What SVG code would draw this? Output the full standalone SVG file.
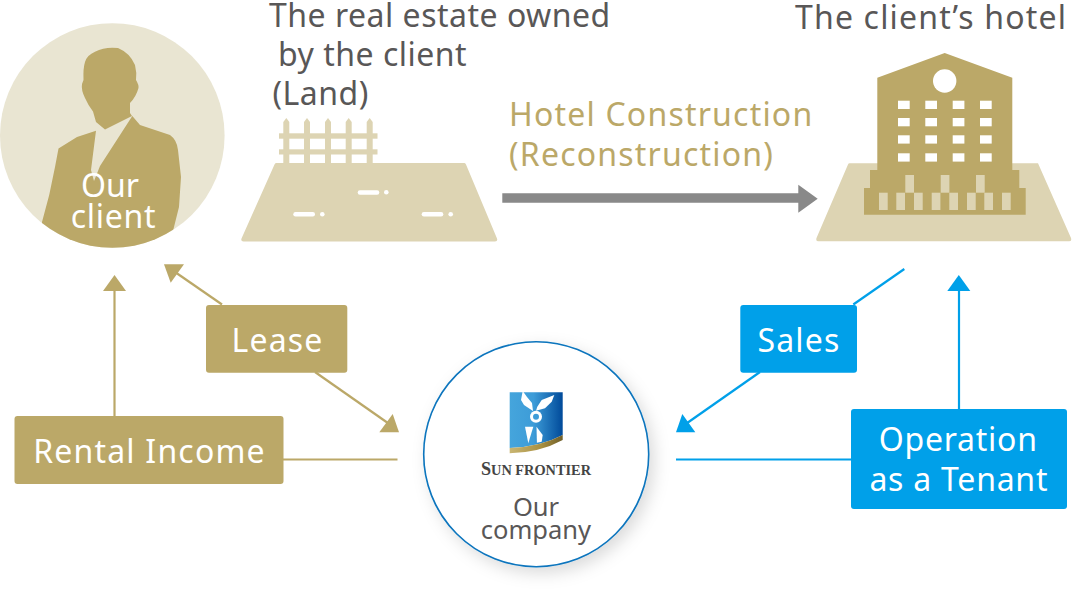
<svg xmlns="http://www.w3.org/2000/svg" width="1072" height="595" viewBox="0 0 1072 595">
<defs>
<style>
text{font-family:"Noto Sans","Open Sans",sans-serif}
.h{font-size:32px;fill:#595757;letter-spacing:.5px}
.hh{letter-spacing:1.17px}
.c{font-size:32px;fill:#bba868;letter-spacing:1.2px}
.w{font-size:32px;fill:#fff;text-anchor:middle;letter-spacing:1.2px}
.o{letter-spacing:.75px}
.cl{letter-spacing:.7px}
.g{fill:#bba868}.l{fill:#ddd4b3}.b{fill:#00a0e9}
.gl{stroke:#bba868;stroke-width:2.2;fill:none}
.bl{stroke:#00a0e9;stroke-width:2.2;fill:none}
</style>
<clipPath id="cc"><circle cx="112.3" cy="135.5" r="112.3"/></clipPath>
<linearGradient id="sh" x1="0" x2="1" y1="0" y2="0"><stop offset="0" stop-color="#45a5dc"/><stop offset=".45" stop-color="#3d9cd8"/><stop offset="1" stop-color="#004a9a"/></linearGradient>
<linearGradient id="au" x1="0" x2="1" y1="0" y2="0"><stop offset="0" stop-color="#c9b673"/><stop offset=".6" stop-color="#a98f3f"/><stop offset="1" stop-color="#6f5f2a"/></linearGradient>
<filter id="ds" x="-20%" y="-20%" width="150%" height="150%"><feDropShadow dx="5" dy="6" stdDeviation="8" flood-color="#000" flood-opacity=".14"/></filter>
</defs>
<g id="connectors">
<line class="gl" x1="114.500" y1="417" x2="114.500" y2="288"/>
<polygon class="g" points="114.500,275 126,291 103,291"/>
<line class="gl" x1="222" y1="304.500" x2="175" y2="272"/>
<polygon class="g" points="164,264.300 184,264.300 170.700,282.700"/>
<line class="gl" x1="315" y1="372" x2="390" y2="424.500"/>
<polygon class="g" points="392.700,414 399,432.300 379.300,432.300"/>
<line class="gl" x1="283" y1="459.500" x2="397.500" y2="459.500"/>
<line class="bl" x1="853.300" y1="304.500" x2="904.300" y2="269"/>
<line class="bl" x1="760" y1="372" x2="685" y2="424.500"/>
<polygon class="b" points="682.300,414 695.300,432.300 676,432.300"/>
<line class="bl" x1="959" y1="410" x2="959" y2="288"/>
<polygon class="b" points="958.800,275 970.300,291 947.300,291"/>
<line class="bl" x1="676" y1="459.500" x2="852" y2="459.500"/>
<polygon points="502.300,193.300 798.300,193.300 798.300,184.700 817.700,198.700 798.300,212.700 798.300,202.700 502.300,202.700" fill="#898989"/>
</g>
<g id="client">
<circle cx="112.3" cy="135.5" r="112.3" fill="#e9e5d2"/>
<g clip-path="url(#cc)">
<path class="g" d="M95 51.700Q105 46.500 118 48Q130 53 135 65Q137 73 136 80Q139 85 138.500 88Q136 97 130 103L130 113L132 116L105 129.500L96 122L93 111.500Q88 105 85 98Q81 90 82 84L83.500 80Q83 68 85 62Q87 55 95 51.700Z"/>
<path class="g" d="M96 130.700L91 170L94 181L100 166L132.300 116L140 125L170 135Q177 140 178 150L181 177L179 207L172 235L173 260L42 260L42 222Q50 195 55 167L58.500 148.500L77 137Z"/>
</g>
<text class="w" x="110" y="197" style="letter-spacing:0">Our</text>
<text class="w cl" x="113.500" y="228">client</text>
</g>
<g id="land">
<path class="l" d="M276 163H464.500Q465.500 163 466 164.500L497 238.500Q498 241.500 495 241.500H243.500Q240.500 241.500 241.500 238.500L274.500 164.500Q275 163 276 163Z"/>
<g class="l">
<rect x="279" y="133.300" width="98.500" height="5.400"/>
<rect x="279" y="149.300" width="98.500" height="5.200"/>
<polygon points="283.300,164 283.300,122 286.300,118 289.300,122 289.300,164"/>
<polygon points="304,164 304,122 307,118 310,122 310,164"/>
<polygon points="325,164 325,122 328,118 331,122 331,164"/>
<polygon points="345.700,164 345.700,122 348.700,118 351.700,122 351.700,164"/>
<polygon points="366.700,164 366.700,122 369.700,118 372.700,122 372.700,164"/>
</g>
<g fill="#fff">
<rect x="357.700" y="190.300" width="21.600" height="4.400" rx="2.200"/><circle cx="386.300" cy="192.300" r="2.300"/>
<rect x="293.300" y="212" width="21.700" height="4.400" rx="2.200"/><circle cx="322.300" cy="214.200" r="2.300"/>
<rect x="421.700" y="212" width="21.600" height="4.400" rx="2.200"/><circle cx="450.700" cy="214.200" r="2.300"/>
</g>
<text class="h" x="269" y="27">The real estate owned</text>
<text class="h" x="278" y="66">by the client</text>
<text class="h" x="272.500" y="105">(Land)</text>
</g>
<g id="construction-label">
<text class="c" x="509" y="126">Hotel Construction</text>
<text class="c" x="509" y="166">(Reconstruction)</text>
</g>
<g id="hotel">
<path class="l" d="M849.500 163.300H1038L1071 238Q1072 241.300 1069 241.300H818.500Q815.500 241.300 816.500 238L848 164.500Q848.500 163.300 849.500 163.300Z"/>
<path class="g" d="M877.300 77.700L944.700 53L1012.300 77.700V170H1019.300V188H1025.700V214.700H864V188H870V170H877.300Z"/>
<circle cx="944.700" cy="81" r="11.700" fill="#fff"/>
<g fill="#fff">
<rect x="898" y="100.700" width="11.700" height="8.300"/><rect x="925.300" y="100.700" width="11.700" height="8.300"/><rect x="952.700" y="100.700" width="11.700" height="8.300"/><rect x="980" y="100.700" width="11.700" height="8.300"/>
<rect x="898" y="118" width="11.700" height="8.300"/><rect x="925.300" y="118" width="11.700" height="8.300"/><rect x="952.700" y="118" width="11.700" height="8.300"/><rect x="980" y="118" width="11.700" height="8.300"/>
<rect x="898" y="135.300" width="11.700" height="8.300"/><rect x="925.300" y="135.300" width="11.700" height="8.300"/><rect x="952.700" y="135.300" width="11.700" height="8.300"/><rect x="980" y="135.300" width="11.700" height="8.300"/>
<rect x="898" y="153.300" width="11.700" height="8.300"/><rect x="925.300" y="153.300" width="11.700" height="8.300"/><rect x="952.700" y="153.300" width="11.700" height="8.300"/><rect x="980" y="153.300" width="11.700" height="8.300"/>
</g>
<g class="l">
<rect x="905.300" y="175" width="8.700" height="17.700"/><rect x="940.700" y="175" width="8.700" height="17.700"/><rect x="976" y="175" width="8.700" height="17.700"/>
<rect x="879" y="192.700" width="8.700" height="17.300"/><rect x="896.300" y="192.700" width="8.700" height="17.300"/><rect x="914" y="192.700" width="8.700" height="17.300"/><rect x="931.700" y="192.700" width="8.700" height="17.300"/><rect x="949.300" y="192.700" width="8.700" height="17.300"/><rect x="967" y="192.700" width="8.700" height="17.300"/><rect x="984.300" y="192.700" width="8.700" height="17.300"/><rect x="1002" y="192.700" width="8.700" height="17.300"/>
</g>
<text class="h hh" x="795" y="29">The client’s hotel</text>
</g>
<g id="rental-income"><rect class="g" x="14.500" y="416" width="269" height="68" rx="3"/><text class="w" x="149.500" y="463">Rental Income</text></g>
<g id="lease"><rect class="g" x="206" y="305" width="141.300" height="67.700" rx="3"/><text class="w" x="277.500" y="352">Lease</text></g>
<g id="sales"><rect class="b" x="740.300" y="305" width="116.700" height="67.700" rx="3"/><text class="w" x="799" y="352">Sales</text></g>
<g id="operation"><rect class="b" x="851" y="409" width="216" height="100" rx="3"/><text class="w o" x="958.300" y="451">Operation</text><text class="w o" x="958.800" y="491">as a Tenant</text></g>
<g id="company">
<circle cx="536.200" cy="454.200" r="112.500" fill="#fff" stroke="#0a74bd" stroke-width="1.600" filter="url(#ds)"/>
<path fill="url(#sh)" d="M509.700 392.300H562.700V435Q540 447 509.700 448Z"/>
<path fill="url(#au)" d="M509.700 448Q540 447 562.700 435V440Q540 452.500 509.700 453.300Z"/>
<g fill="#fff">
<path d="M522.700 391L521 400L524 405L533 411L532 403L527 397Z"/>
<path d="M554.300 395L541.700 400L537.300 406.700L536 410.700L545 408.300L551.700 401.700Z"/>
<circle cx="536" cy="416.700" r="6"/>
<path d="M525 426.700H533.300L528.300 443.300Z"/>
<path d="M536.500 426.700L542.700 435L541.700 441.700L536.900 442.700Z"/>
</g>
<circle cx="536" cy="416.700" r="3" fill="#3d9cd8"/>
<text x="481" y="475" textLength="110" lengthAdjust="spacingAndGlyphs" style="font-family:'Liberation Serif',serif;font-size:15px;font-weight:bold;fill:#444"><tspan style="font-size:19px">S</tspan>UN FRONTIER</text>
<text x="536" y="515.500" text-anchor="middle" style="font-size:25.500px;fill:#595757">Our</text>
<text x="536" y="539" text-anchor="middle" style="font-size:25.500px;fill:#595757">company</text>
</g>
</svg>
